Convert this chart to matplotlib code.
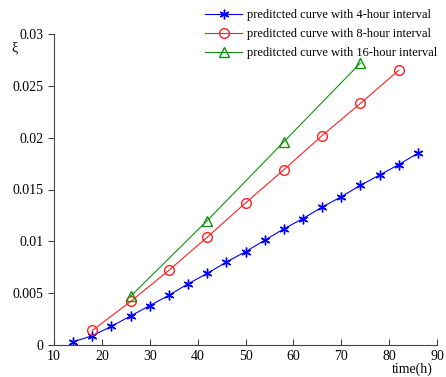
import numpy as np
import matplotlib.pyplot as plt

plt.rcParams['font.family'] = ['Liberation Serif', 'DejaVu Serif']

# data
t4 = [14, 18, 22, 26, 30, 34, 38, 42, 46, 50, 54, 58, 62, 66, 70, 74, 78, 82, 86]
xi4 = [0.0003, 0.0009, 0.0018, 0.0028, 0.0038, 0.0048, 0.0059, 0.0069, 0.0080,
       0.0090, 0.0101, 0.0112, 0.0122, 0.0133, 0.0143, 0.0154, 0.0164, 0.0174, 0.0185]
t8 = [18, 26, 34, 42, 50, 58, 66, 74, 82]
xi8 = [0.0014, 0.0042, 0.0072, 0.0104, 0.0137, 0.0169, 0.0202, 0.0233, 0.0265]
t16 = [26, 42, 58, 74]
xi16 = [0.0047, 0.0120, 0.0196, 0.0272]

labels = ["preditcted curve with 4-hour interval",
          "preditcted curve with 8-hour interval",
          "preditcted curve with 16-hour interval"]

fig = plt.figure(figsize=(4.46, 3.77), dpi=100)
ax = fig.add_axes([54 / 446, 1 - 345 / 377, (437 - 54) / 446, (345 - 34) / 377])

# asterisk marker like matlab's '*'
ax.plot(t4, xi4, color="#0000ff", lw=0.8, marker=(6, 2, 0), ms=7, mew=1.0, label=labels[0])
ax.plot(t8, xi8, color="#ff2020", lw=0.8, marker="o", ms=7, mfc="none", label=labels[1])
ax.plot(t16, xi16, color="#109010", lw=0.8, marker="^", ms=7, mfc="none", label=labels[2])

ax.set_xlim(10, 90)
ax.set_ylim(0, 0.03)
ax.set_xticks(range(10, 91, 10))
ax.set_yticks([0, 0.005, 0.01, 0.015, 0.02, 0.025, 0.03])
ax.set_yticklabels(["0", "0.005", "0.01", "0.015", "0.02", "0.025", "0.03"])
ax.tick_params(axis="x", direction="in", length=4, labelsize=10, colors="#444444", labelcolor="black")
ax.tick_params(axis="y", direction="out", length=4, labelsize=10, colors="#444444", labelcolor="black")
for s in ["top", "right"]:
    ax.spines[s].set_visible(False)
for s in ["left", "bottom"]:
    ax.spines[s].set_color("#444444")

fig.text(15 / 446, 1 - 48 / 377, "ξ", fontsize=10, ha="center", va="center")
fig.text(412 / 446, 1 - 369 / 377, "time(h)", fontsize=10, ha="center", va="center")

fig.legend(loc="upper right", bbox_to_anchor=(447 / 446, 1.0), frameon=False, fontsize=9,
           handlelength=3.0, handletextpad=0.4, labelspacing=0.55, borderpad=0.25)

fig.savefig("out.png", dpi=100)
